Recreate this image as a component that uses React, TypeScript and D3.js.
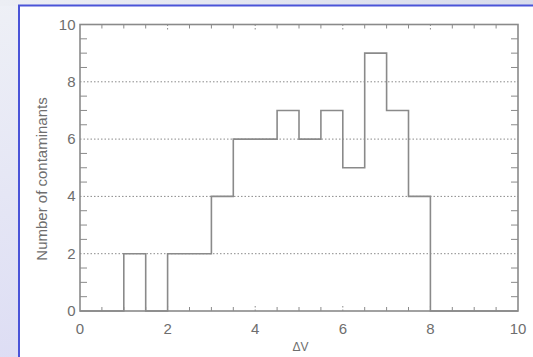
import React from "react";
import * as d3 from "d3";

const binEdges = [0, 1, 1.5, 2, 3, 3.5, 4.5, 5, 5.5, 6, 6.5, 7, 7.5, 8, 10];
const binCounts = [0, 2, 0, 2, 4, 6, 7, 6, 7, 5, 9, 7, 4, 0];
const xTicks = [0, 2, 4, 6, 8, 10];
const yTicks = [0, 2, 4, 6, 8, 10];
const xLabel = "ΔV";
const yLabel = "Number of contaminants";

const W = 533, H = 357;
const left = 80, right = 518, top = 24.5, bottom = 311;

export default function App() {
  const x = d3.scaleLinear().domain([0, 10]).range([left, right]);
  const y = d3.scaleLinear().domain([0, 10]).range([bottom, top]);
  const minor = d3.range(0, 10.01, 0.5).filter((v) => Math.abs(v - Math.round(v / 2) * 2) > 1e-6);

  const pts: [number, number][] = [];
  binCounts.forEach((c, i) => {
    pts.push([binEdges[i], c]);
    pts.push([binEdges[i + 1], c]);
  });
  const line = d3.line<[number, number]>().x((d) => x(d[0])).y((d) => y(d[1]));

  const gray = "#8a8a8a";
  const txt = "#6e6e6e";
  const font = "'Liberation Sans', Arial, sans-serif";

  return (
    <svg width={W} height={H} style={{ position: "absolute", left: 0, top: 0 }}>
      <defs>
        <linearGradient id="bg" x1="0" y1="0" x2="0.3" y2="1">
          <stop offset="0" stopColor="#eef0f6" />
          <stop offset="1" stopColor="#dcdcf4" />
        </linearGradient>
        <linearGradient id="bgTop" x1="0" y1="0" x2="1" y2="0">
          <stop offset="0" stopColor="#eceef4" />
          <stop offset="1" stopColor="#d8dcec" />
        </linearGradient>
      </defs>
      <rect x={0} y={0} width={W} height={H} fill="url(#bg)" />
      <rect x={0} y={0} width={W} height={6} fill="url(#bgTop)" />
      <rect x={19} y={5.5} width={W} height={H} fill="#ffffff" stroke="#4a54d8" strokeWidth={2} />

      {yTicks.filter((t) => t > 0 && t < 10).map((t) => (
        <line key={"g" + t} x1={left} x2={right} y1={y(t)} y2={y(t)} stroke={gray} strokeWidth={1} strokeDasharray="1.5,2" />
      ))}
      {minor.map((t) => (
        <g key={"ym" + t}>
          <line x1={left} x2={left + 7} y1={y(t)} y2={y(t)} stroke={gray} strokeWidth={1} />
          <line x1={right} x2={right - 7} y1={y(t)} y2={y(t)} stroke={gray} strokeWidth={1} />
        </g>
      ))}
      {minor.map((t) => (
        <g key={"xm" + t}>
          <line x1={x(t)} x2={x(t)} y1={bottom} y2={bottom - 4} stroke={gray} strokeWidth={1} />
          <line x1={x(t)} x2={x(t)} y1={top} y2={top + 4} stroke={gray} strokeWidth={1} />
        </g>
      ))}
      {xTicks.filter((t) => t > 0 && t < 10).map((t) => (
        <g key={"xM" + t}>
          <line x1={x(t)} x2={x(t)} y1={bottom} y2={bottom - 7} stroke={gray} strokeWidth={1} strokeDasharray="1.5,2" />
          <line x1={x(t)} x2={x(t)} y1={top} y2={top + 7} stroke={gray} strokeWidth={1} strokeDasharray="1.5,2" />
        </g>
      ))}

      <path d={line(pts) || ""} fill="none" stroke={gray} strokeWidth={1.6} />

      <rect x={left} y={top} width={right - left} height={bottom - top} fill="none" stroke={gray} strokeWidth={1.6} />

      {xTicks.map((t) => (
        <text key={"xl" + t} x={x(t)} y={334} textAnchor="middle" fontFamily={font} fontSize={15} fill={txt}>
          {t}
        </text>
      ))}
      {yTicks.map((t) => (
        <text key={"yl" + t} x={75.5} y={y(t) + 5} textAnchor="end" fontFamily={font} fontSize={15} fill={txt}>
          {t}
        </text>
      ))}
      <text x={300.5} y={351} textAnchor="middle" fontFamily={font} fontSize={12} fill={txt}>
        {xLabel}
      </text>
      <text
        transform={`translate(46.5, 179) rotate(-90)`}
        textAnchor="middle"
        fontFamily={font}
        fontSize={15}
        fill={txt}
      >
        {yLabel}
      </text>
    </svg>
  );
}
